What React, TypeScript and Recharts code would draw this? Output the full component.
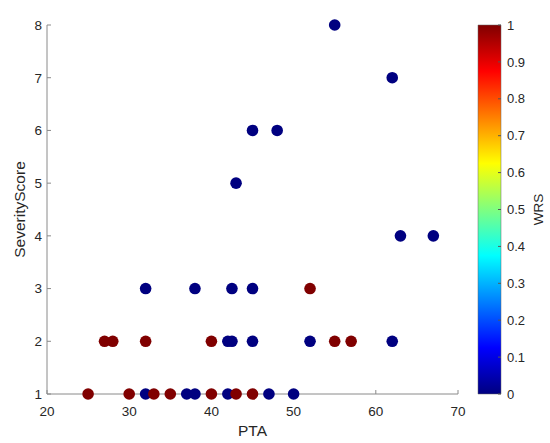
import { ScatterChart, Scatter, XAxis, YAxis, Cell, ComposedChart, Bar } from "recharts";

// PTA vs severity score, coloured by WRS (0 = blue, 1 = red)
const ptaValues = [
  55, 62, 45, 48, 43, 63, 67, 32, 38, 42.5, 45, 42, 42.5, 45, 52, 62, 32, 37, 38, 42, 47, 50,
  52, 27, 28, 32, 40, 55, 57, 25, 30, 33, 35, 40, 43, 45,
];
const severityValues = [
  8, 7, 6, 6, 5, 4, 4, 3, 3, 3, 3, 2, 2, 2, 2, 2, 1, 1, 1, 1, 1, 1,
  3, 2, 2, 2, 2, 2, 2, 1, 1, 1, 1, 1, 1, 1,
];
const wrsValues = [
  0, 0, 0, 0, 0, 0, 0, 0, 0, 0, 0, 0, 0, 0, 0, 0, 0, 0, 0, 0, 0, 0,
  1, 1, 1, 1, 1, 1, 1, 1, 1, 1, 1, 1, 1, 1,
];

const ptaTicks = [20, 30, 40, 50, 60, 70];
const severityTicks = [1, 2, 3, 4, 5, 6, 7, 8];
const wrsTicks = [0, 0.1, 0.2, 0.3, 0.4, 0.5, 0.6, 0.7, 0.8, 0.9, 1];

// MATLAB jet colormap anchor points
const jetStops = [
  { offset: 0, color: [0, 0, 128] },
  { offset: 0.125, color: [0, 0, 255] },
  { offset: 0.375, color: [0, 255, 255] },
  { offset: 0.625, color: [255, 255, 0] },
  { offset: 0.875, color: [255, 0, 0] },
  { offset: 1, color: [128, 0, 0] },
];

const rgb = (c: number[]) => `rgb(${c.map((v) => Math.round(v)).join(",")})`;

function jetColor(v: number) {
  for (let i = 1; i < jetStops.length; i++) {
    const a = jetStops[i - 1];
    const b = jetStops[i];
    if (v <= b.offset) {
      const t = (v - a.offset) / (b.offset - a.offset);
      return rgb(a.color.map((c, k) => c + (b.color[k] - c) * t));
    }
  }
  return rgb(jetStops[jetStops.length - 1].color);
}

const points = ptaValues.map((pta, i) => ({
  pta,
  severity: severityValues[i],
  wrs: wrsValues[i],
}));

const font = "'Liberation Sans', Arial, sans-serif";
const axisGray = "#8a8a8a";
const textColor = "#262626";

const Dot = (props: any) => <circle cx={props.cx} cy={props.cy} r={5.8} fill={props.fill} />;

export default function App() {
  return (
    <div style={{ position: "absolute", left: 0, top: 0, display: "flex", background: "#fff" }}>
      <ScatterChart width={470} height={443} margin={{ top: 25, right: 12, bottom: 9, left: 0 }}>
        <XAxis
          type="number"
          dataKey="pta"
          domain={[20, 70]}
          ticks={ptaTicks}
          height={40}
          tickSize={-4}
          tickMargin={16}
          axisLine={{ stroke: axisGray }}
          tickLine={{ stroke: axisGray }}
          tick={{ fill: textColor, fontSize: 13.5, fontFamily: font }}
          label={(p: any) => {
            const vb = p.viewBox;
            return (
              <text
                x={vb.x + vb.width / 2}
                y={vb.y + 42}
                textAnchor="middle"
                fill={textColor}
                fontSize={15.5}
                fontFamily={font}
              >
                PTA
              </text>
            );
          }}
        />
        <YAxis
          type="number"
          dataKey="severity"
          domain={[1, 8]}
          ticks={severityTicks}
          width={47}
          tickSize={-4}
          tickMargin={9}
          axisLine={{ stroke: axisGray }}
          tickLine={{ stroke: axisGray }}
          tick={{ fill: textColor, fontSize: 13.5, fontFamily: font }}
          label={(p: any) => {
            const vb = p.viewBox;
            const x = vb.x + 19;
            const y = vb.y + vb.height / 2;
            return (
              <text
                x={x}
                y={y}
                transform={`rotate(-90, ${x}, ${y})`}
                textAnchor="middle"
                dominantBaseline="central"
                fill={textColor}
                fontSize={15.5}
                fontFamily={font}
              >
                SeverityScore
              </text>
            );
          }}
        />
        <Scatter data={points} shape={Dot} isAnimationActive={false}>
          {points.map((p, i) => (
            <Cell key={i} fill={jetColor(p.wrs)} />
          ))}
        </Scatter>
      </ScatterChart>

      <ComposedChart
        width={80}
        height={443}
        data={[{ name: "WRS", v: 1 }]}
        margin={{ top: 25, right: 0, bottom: 49, left: 8 }}
        barCategoryGap={0}
      >
        <defs>
          <linearGradient id="jetMap" x1="0" y1="1" x2="0" y2="0">
            {jetStops.map((s) => (
              <stop key={s.offset} offset={s.offset} stopColor={rgb(s.color)} />
            ))}
          </linearGradient>
        </defs>
        <XAxis dataKey="name" hide />
        <YAxis
          orientation="right"
          type="number"
          domain={[0, 1]}
          ticks={wrsTicks}
          width={49}
          tickSize={-3}
          tickMargin={9}
          axisLine={false}
          tickLine={{ stroke: "#555" }}
          tick={{ fill: textColor, fontSize: 13, fontFamily: font }}
          label={(p: any) => {
            const vb = p.viewBox;
            const x = vb.x + 37;
            const y = vb.y + vb.height / 2;
            return (
              <text
                x={x}
                y={y}
                transform={`rotate(-90, ${x}, ${y})`}
                textAnchor="middle"
                dominantBaseline="central"
                fill={textColor}
                fontSize={13.5}
                fontFamily={font}
              >
                WRS
              </text>
            );
          }}
        />
        <Bar dataKey="v" fill="url(#jetMap)" stroke="#666" strokeWidth={0.5} isAnimationActive={false} />
      </ComposedChart>
    </div>
  );
}
